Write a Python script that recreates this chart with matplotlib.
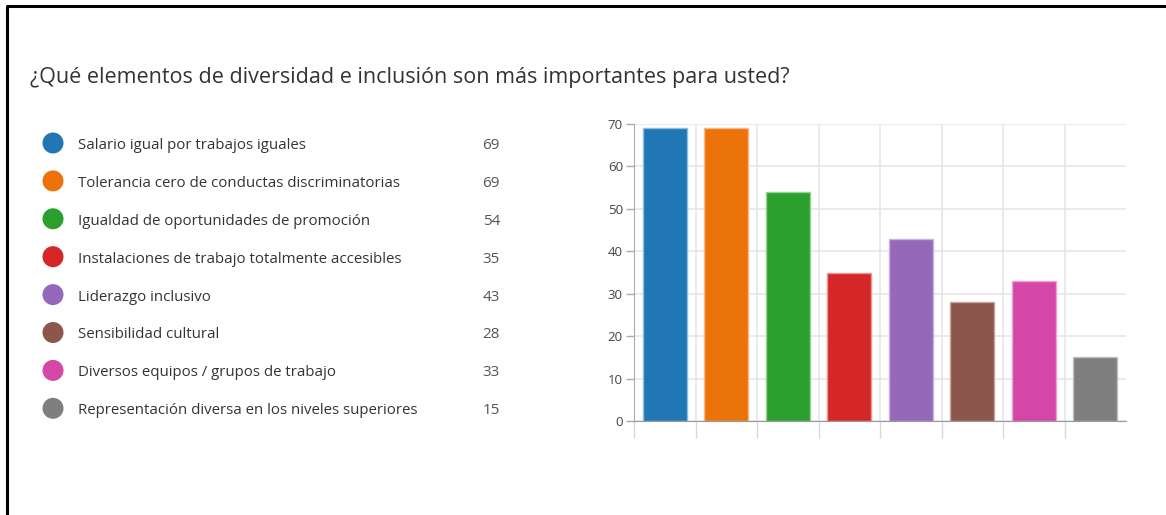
import matplotlib.pyplot as plt
from matplotlib.patches import Circle

plt.rcParams['font.family'] = ['Open Sans', 'DejaVu Sans']

title = "¿Qué elementos de diversidad e inclusión son más importantes para usted?"
categories = [
    "Salario igual por trabajos iguales",
    "Tolerancia cero de conductas discriminatorias",
    "Igualdad de oportunidades de promoción",
    "Instalaciones de trabajo totalmente accesibles",
    "Liderazgo inclusivo",
    "Sensibilidad cultural",
    "Diversos equipos / grupos de trabajo",
    "Representación diversa en los niveles superiores",
]
values = [69, 69, 54, 35, 43, 28, 33, 15]
colors = ["#2177b4", "#ec730a", "#2ca02e", "#d62728",
          "#9568ba", "#8c564c", "#d447a6", "#7f7f7f"]
edges = ["#8fbde0", "#f7b98a", "#93d493", "#ee9495",
         "#c9b2dd", "#c5a49e", "#eaa3d3", "#bfbfbf"]
yticks = [0, 10, 20, 30, 40, 50, 60, 70]

W, H = 1166, 515
fig = plt.figure(figsize=(W / 100, H / 100), dpi=100)

# page frame
bg = fig.add_axes([0, 0, 1, 1])
bg.set_xlim(0, W)
bg.set_ylim(H, 0)
bg.axis("off")
bg.plot([7, 7], [6, H], color="black", lw=2.2, solid_capstyle="butt")
bg.plot([6, W], [6, 6], color="black", lw=2.2, solid_capstyle="butt")

bg.text(30, 78, title, fontsize=15.45, color="#333333", va="center", ha="left")

# legend list
for i, (cat, val, col) in enumerate(zip(categories, values, colors)):
    y = 145.5 + i * 37.9
    bg.add_patch(Circle((53, y - 2.5), 10.5, color=col, ec="none"))
    bg.text(78, y, cat, fontsize=10.8, color="#333333", va="center", ha="left")
    bg.text(500, y, str(val), fontsize=11, color="#555555", va="center", ha="right")

# bar chart
ax = fig.add_axes([634 / W, 1 - 421 / H, (1126 - 634) / W, (421 - 124) / H])
x = range(len(values))
ax.bar(x, values, width=0.72, color=colors, edgecolor=edges, linewidth=1, zorder=3)
ax.set_xlim(-0.5, len(values) - 0.5)
ax.set_ylim(0, 70)
ax.set_yticks(yticks)
ax.set_yticklabels([str(t) for t in yticks], fontsize=9.5, color="#444444")
ax.set_xticks([i - 0.5 for i in range(len(values))])
ax.set_xticklabels([])
ax.tick_params(axis="x", length=12, color="#d9d9d9", width=1)
ax.tick_params(axis="y", length=6, color="#aaaaaa", width=1, pad=2)
ax.get_xticklines()[0].set_color("#aaaaaa")
ax.grid(True, color="#e6e6e6", lw=1.2, zorder=0)
for s in ["top", "right"]:
    ax.spines[s].set_visible(False)
ax.spines["left"].set_color("#aaaaaa")
ax.spines["left"].set_bounds(0, 70)
ax.spines["bottom"].set_color("#999999")
ax.spines["bottom"].set_zorder(4)

fig.savefig("out.png", dpi=100)
